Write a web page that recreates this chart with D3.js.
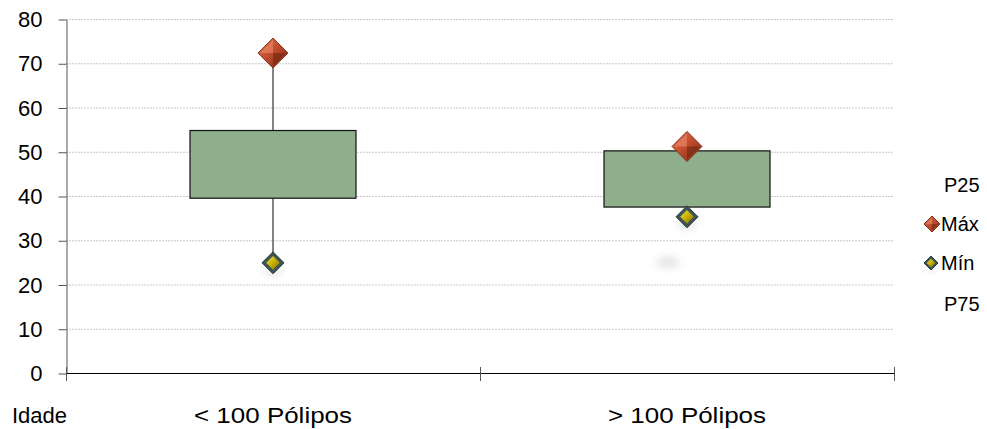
<!DOCTYPE html>
<html>
<head>
<meta charset="utf-8">
<script src="https://cdn.jsdelivr.net/npm/d3@7"></script>
<style>
  html, body { margin: 0; padding: 0; background: #fff; }
  svg { display: block; font-family: "Liberation Sans", Arial, sans-serif; }
</style>
</head>
<body>
<svg id="chart" width="987" height="429"></svg>
<script>
// Age distribution by polyp count group
const categories = ["< 100 Pólipos", "> 100 Pólipos"];
const p25 = [39.5, 37.5];
const p75 = [54.8, 50.2];
const maxVals = [72.3, 51.2];
const minVals = [24.9, 35.3];
const yTicks = [0, 10, 20, 30, 40, 50, 60, 70, 80];
const legendItems = ["P25", "Máx", "Mín", "P75"];

const svg = d3.select("#chart");
const margin = { left: 66, right: 93, top: 19, bottom: 56 };
const W = 987, H = 429;

const x = d3.scaleBand().domain(categories)
  .range([margin.left, W - margin.right]).paddingInner(0).paddingOuter(0);
const y = d3.scaleLinear().domain([0, 80]).range([H - margin.bottom, margin.top]);

const defs = svg.append("defs");
const gMax = defs.append("linearGradient").attr("id", "gMax")
  .attr("x1", "0").attr("y1", "0").attr("x2", "1").attr("y2", "1");
gMax.append("stop").attr("offset", "0").attr("stop-color", "#e07a58");
gMax.append("stop").attr("offset", "0.45").attr("stop-color", "#c24e2e");
gMax.append("stop").attr("offset", "1").attr("stop-color", "#7a2a16");
const gMin = defs.append("linearGradient").attr("id", "gMin")
  .attr("x1", "0").attr("y1", "0").attr("x2", "1").attr("y2", "1");
gMin.append("stop").attr("offset", "0").attr("stop-color", "#f0e040");
gMin.append("stop").attr("offset", "0.5").attr("stop-color", "#c8b000");
gMin.append("stop").attr("offset", "1").attr("stop-color", "#7d6c00");
const blur = defs.append("filter").attr("id", "soft").attr("x", "-1").attr("y", "-1").attr("width", "3").attr("height", "3");
blur.append("feGaussianBlur").attr("stdDeviation", 4);

// Gridlines
svg.append("g").selectAll("line").data(yTicks.filter(d => d > 0)).join("line")
  .attr("x1", margin.left).attr("x2", W - margin.right)
  .attr("y1", d => y(d) + 0.5).attr("y2", d => y(d) + 0.5)
  .attr("stroke", "#c8c8c8").attr("stroke-width", 1).attr("stroke-dasharray", "2,1");

// Y axis
const yAxis = d3.axisLeft(y).tickValues(yTicks).tickSize(8).tickPadding(16).tickSizeOuter(0);
const gy = svg.append("g").attr("transform", `translate(${margin.left + 0.5},0.5)`).call(yAxis);
gy.select(".domain").attr("stroke", "#555");
gy.selectAll(".tick line").attr("stroke", "#555");
gy.selectAll(".tick text").attr("font-size", 22).attr("fill", "#000")
  .attr("font-family", "Liberation Sans, Arial, sans-serif");

// X axis with ticks between categories
const xBase = y(0);
svg.append("line").attr("x1", margin.left).attr("x2", W - margin.right)
  .attr("y1", xBase + 0.5).attr("y2", xBase + 0.5).attr("stroke", "#000");
const bounds = [x(categories[0]), x(categories[1]), x(categories[1]) + x.bandwidth()];
svg.append("g").selectAll("line").data(bounds).join("line")
  .attr("x1", d => d + 0.5).attr("x2", d => d + 0.5)
  .attr("y1", xBase - 6).attr("y2", xBase + 8).attr("stroke", "#555");
svg.append("g").selectAll("text").data(categories).join("text")
  .attr("x", d => x(d) + x.bandwidth() / 2).attr("y", 423)
  .attr("text-anchor", "middle").attr("font-size", 22)
  .attr("textLength", 158).attr("lengthAdjust", "spacingAndGlyphs").text(d => d);
svg.append("text").attr("x", 12).attr("y", 423).attr("font-size", 22).text("Idade");

// Faint shadow under the second group
svg.append("ellipse")
  .attr("cx", x(categories[1]) + x.bandwidth() / 2 - 19).attr("cy", y(25.0))
  .attr("rx", 12).attr("ry", 6).attr("fill", "#000").attr("opacity", 0.1)
  .attr("filter", "url(#soft)");

const boxW = 166;
const cx = d => x(d) + x.bandwidth() / 2;

// Whiskers
categories.forEach((c, i) => {
  svg.append("line").attr("x1", cx(c)).attr("x2", cx(c))
    .attr("y1", y(maxVals[i])).attr("y2", y(p75[i])).attr("stroke", "#333").attr("stroke-width", 1.2);
  svg.append("line").attr("x1", cx(c)).attr("x2", cx(c))
    .attr("y1", y(p25[i])).attr("y2", y(minVals[i])).attr("stroke", "#333").attr("stroke-width", 1.2);
});

// Boxes (P25 to P75)
svg.append("g").selectAll("rect").data(categories).join("rect")
  .attr("x", d => cx(d) - boxW / 2).attr("width", boxW)
  .attr("y", (d, i) => y(p75[i])).attr("height", (d, i) => y(p25[i]) - y(p75[i]))
  .attr("fill", "#8fae8b").attr("stroke", "#111").attr("stroke-width", 1.2);

function diamond(g, px, py, r, fill, stroke, sw) {
  g.append("path")
    .attr("d", `M${px},${py - r}L${px + r},${py}L${px},${py + r}L${px - r},${py}Z`)
    .attr("fill", fill).attr("stroke", stroke).attr("stroke-width", sw);
}
function maxMarker(g, px, py, r) {
  diamond(g, px, py, r, "url(#gMax)", "#8a3018", 1);
  // facet highlight
  g.append("path").attr("d", `M${px},${py - r + 2}L${px - r + 2},${py}L${px},${py}Z`)
    .attr("fill", "#f09070").attr("opacity", 0.55);
  g.append("path").attr("d", `M${px},${py + r - 2}L${px + r - 2},${py}L${px},${py}Z`)
    .attr("fill", "#5a1c0c").attr("opacity", 0.45);
}
function minMarker(g, px, py, r) {
  g.append("ellipse").attr("cx", px).attr("cy", py + r * 0.7).attr("rx", r * 0.8).attr("ry", r * 0.35)
    .attr("fill", "#000").attr("opacity", 0.15).attr("filter", "url(#soft)");
  diamond(g, px, py, r, "#3c5456", "#2a3c3e", 1);
  diamond(g, px, py, r * 0.62, "url(#gMin)", "none", 0);
}

const marks = svg.append("g");
categories.forEach((c, i) => {
  minMarker(marks, cx(c), y(minVals[i]), 11);
  maxMarker(marks, cx(c), y(maxVals[i]), 15);
});

// Legend
const lg = svg.append("g");
const ly = [185, 224, 263, 304];
legendItems.forEach((t, i) => {
  lg.append("text").attr("x", i === 0 || i === 3 ? 944 : 941).attr("y", ly[i] + 7)
    .attr("font-size", 20).text(t);
});
maxMarker(lg, 932, 224, 8);
minMarker(lg, 931, 263, 7);
</script>
</body>
</html>
